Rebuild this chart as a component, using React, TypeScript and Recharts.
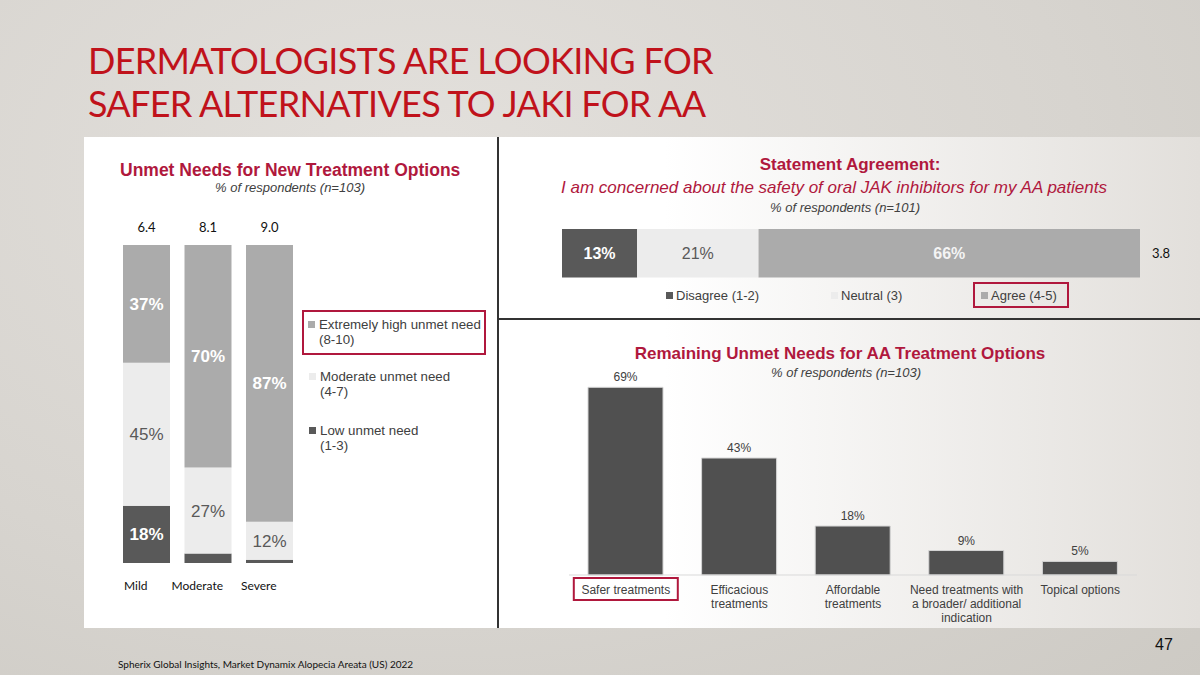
import { BarChart, Bar, XAxis, YAxis, LabelList, Legend } from "recharts";

// left: unmet need by severity (stacked 100%)
const severityCats = ["Mild", "Moderate", "Severe"];
const lowNeed = [18, 3, 1];
const moderateNeed = [45, 27, 12];
const highNeed = [37, 70, 87];
const meanScores = ["6.4", "8.1", "9.0"];

// top right: statement agreement
const agreementCats = ["Oral JAK safety"];
const disagreeShare = [13];
const neutralShare = [21];
const agreeShare = [66];
const agreementMean = ["3.8"];

// bottom right: remaining unmet needs
const needCats = [
	"Safer treatments",
	"Efficacious\ntreatments",
	"Affordable\ntreatments",
	"Need treatments with\na broader/ additional\nindication",
	"Topical options",
];
const needValues = [69, 43, 18, 9, 5];

const severityData = severityCats.map((name, i) => ({
	name,
	low: lowNeed[i],
	moderate: moderateNeed[i],
	high: highNeed[i],
	score: meanScores[i],
}));

const agreementData = agreementCats.map((name, i) => ({
	name,
	disagree: disagreeShare[i],
	neutral: neutralShare[i],
	agree: agreeShare[i],
	mean: agreementMean[i],
}));

const needData = needCats.map((name, i) => ({ name, value: needValues[i] }));

const RED = "#b0183d";
const ARIAL = "'Liberation Sans', Arial, sans-serif";
const GILL = "Lato, 'Open Sans', sans-serif";

const pct = (v: any) => (Number(v) >= 5 ? `${v}%` : "");

const ordered = (payload: any[], order: string[]) =>
	[...(payload || [])].sort((a, b) => order.indexOf(a.dataKey) - order.indexOf(b.dataKey));

const SeverityLegend = ({ payload }: any) => {
	const items = ordered(payload, ["high", "moderate", "low"]);
	const tops = [0, -10, -2];
	return (
		<div style={{ fontFamily: ARIAL, fontSize: 13.3, color: "#404040", lineHeight: "15px" }}>
			{items.map((it: any, i: number) => (
				<div
					key={it.dataKey}
					style={{
						display: "flex",
						alignItems: "flex-start",
						marginBottom: 22,
						padding: i === 0 ? "5px 4px 6px 4px" : "0 5px",
						border: i === 0 ? `2px solid ${RED}` : "2px solid transparent",
						marginTop: tops[i],
					}}
				>
					<span style={{ width: 7, height: 7, background: it.color, marginTop: 4, marginRight: 4, flex: "none" }} />
					<span style={{ whiteSpace: "pre" }}>{it.value}</span>
				</div>
			))}
		</div>
	);
};

const AgreementLegend = ({ payload }: any) => {
	const widths = [165, 150, 96];
	const items = ordered(payload, ["disagree", "neutral", "agree"]);
	return (
		<div style={{ display: "flex", fontFamily: ARIAL, fontSize: 13, color: "#404040" }}>
			{items.map((it: any, i: number) => (
				<div
					key={it.dataKey}
					style={{
						width: widths[i],
						display: "flex",
						alignItems: "center",
						boxSizing: "border-box",
						height: 26,
						padding: i === 2 ? "0 6px" : 0,
						border: i === 2 ? `2px solid ${RED}` : "2px solid transparent",
						marginLeft: i === 2 ? -6 : 0,
						flex: "none",
					}}
				>
					<span style={{ width: 7, height: 7, background: it.color, marginRight: 3 }} />
					<span>{it.value}</span>
				</div>
			))}
		</div>
	);
};

const NeedTick = ({ x, y, payload, index }: any) => {
	const lines = String(payload.value).split("\n");
	return (
		<g>
			{index === 0 && (
				<rect x={x - 52} y={y - 2} width={104} height={22} fill="none" stroke={RED} strokeWidth={2} />
			)}
			<text x={x} y={y} textAnchor="middle" fontFamily={ARIAL} fontSize={12} fill="#404040">
				{lines.map((l, i) => (
					<tspan key={i} x={x} dy={14}>
						{l}
					</tspan>
				))}
			</text>
		</g>
	);
};

const SeverityTick = ({ x, y, payload }: any) => (
	<text x={x - 11} y={y + 19} textAnchor="middle" fontFamily={GILL} fontSize={12} fill="#111">
		{payload.value}
	</text>
);

const txt = (style: any) => ({ position: "absolute" as const, margin: 0, whiteSpace: "nowrap" as const, ...style });

export default function App() {
	return (
		<div
			style={{
				position: "absolute",
				left: 0,
				top: 0,
				width: 1200,
				height: 675,
				overflow: "hidden",
				background: "radial-gradient(ellipse at 35% 25%, #e3e0dc 0%, #d7d4cf 60%, #cdcac4 100%)",
			}}
		>
			<div
				style={txt({
					left: 88,
					top: 39,
					fontFamily: GILL,
					fontSize: 36,
					lineHeight: "43px",
					color: "#c0121b",
					letterSpacing: -0.7,
				})}
			>
				DERMATOLOGISTS ARE LOOKING FOR
				<br />
				SAFER ALTERNATIVES TO JAKI FOR AA
			</div>

			<div
				style={{
					position: "absolute",
					left: 84,
					top: 137,
					width: 1116,
					height: 491,
					background: "linear-gradient(90deg, #ffffff 0%, #ffffff 52%, #e2dfdb 100%)",
				}}
			/>
			<div style={{ position: "absolute", left: 497, top: 137, width: 1.5, height: 491, background: "#333" }} />
			<div style={{ position: "absolute", left: 498, top: 318, width: 702, height: 1.5, background: "#333" }} />

			<div style={txt({ left: 120, top: 160, fontFamily: ARIAL, fontWeight: 700, fontSize: 17.5, color: RED })}>
				Unmet Needs for New Treatment Options
			</div>
			<div style={txt({ left: 290, top: 180, transform: "translateX(-50%)", fontFamily: ARIAL, fontStyle: "italic", fontSize: 13, color: "#404040" })}>
				% of respondents (n=103)
			</div>

			<div style={txt({ left: 850, top: 155, transform: "translateX(-50%)", fontFamily: ARIAL, fontWeight: 700, fontSize: 17, color: RED })}>
				Statement Agreement:
			</div>
			<div style={txt({ left: 834, top: 178, transform: "translateX(-50%)", fontFamily: ARIAL, fontStyle: "italic", fontSize: 17, color: RED })}>
				I am concerned about the safety of oral JAK inhibitors for my AA patients
			</div>
			<div style={txt({ left: 845, top: 200, transform: "translateX(-50%)", fontFamily: ARIAL, fontStyle: "italic", fontSize: 13, color: "#404040" })}>
				% of respondents (n=101)
			</div>

			<div style={txt({ left: 840, top: 344, transform: "translateX(-50%)", fontFamily: ARIAL, fontWeight: 700, fontSize: 17, color: RED })}>
				Remaining Unmet Needs for AA Treatment Options
			</div>
			<div style={txt({ left: 846, top: 365, transform: "translateX(-50%)", fontFamily: ARIAL, fontStyle: "italic", fontSize: 13, color: "#404040" })}>
				% of respondents (n=103)
			</div>

			<div style={{ position: "absolute", left: 100, top: 205 }}>
				<BarChart width={390} height={400} data={severityData} margin={{ top: 40, right: 189.5, left: 16, bottom: 12 }} barSize={47}>
					<XAxis dataKey="name" axisLine={false} tickLine={false} height={30} interval={0} tick={<SeverityTick />} />
					<YAxis hide domain={[0, 100]} />
					<Legend
						layout="vertical"
						align="center"
						verticalAlign="middle"
						content={<SeverityLegend />}
						wrapperStyle={{ left: 202, top: 105, width: 184, height: "auto" }}
					/>
					<Bar dataKey="low" name={"Low unmet need\n(1-3)"} stackId="s" fill="#595959" isAnimationActive={false}>
						<LabelList dataKey="low" position="center" formatter={pct} fill="#fff" fontFamily={ARIAL} fontWeight={700} fontSize={17} />
					</Bar>
					<Bar dataKey="moderate" name={"Moderate unmet need\n(4-7)"} stackId="s" fill="#ececec" isAnimationActive={false}>
						<LabelList dataKey="moderate" position="center" formatter={pct} fill="#595959" fontFamily={ARIAL} fontSize={17} />
					</Bar>
					<Bar dataKey="high" name={"Extremely high unmet need\n(8-10)"} stackId="s" fill="#ababab" isAnimationActive={false}>
						<LabelList dataKey="high" position="center" formatter={pct} fill="#fff" fontFamily={ARIAL} fontWeight={700} fontSize={17} />
						<LabelList dataKey="score" position="top" offset={13} fill="#111" fontFamily={GILL} fontSize={13} />
					</Bar>
				</BarChart>
			</div>

			<div style={{ position: "absolute", left: 500, top: 215 }}>
				<BarChart layout="vertical" width={690} height={100} data={agreementData} margin={{ top: 11, right: 50, left: 62, bottom: 35 }} barSize={54}>
					<XAxis type="number" hide domain={[0, 100]} />
					<YAxis type="category" dataKey="name" hide />
					<Legend
						layout="vertical"
						align="center"
						verticalAlign="middle"
						content={<AgreementLegend />}
						wrapperStyle={{ left: 164, top: 67, width: 430, height: "auto" }}
					/>
					<Bar dataKey="disagree" name="Disagree (1-2)" stackId="a" fill="#595959" isAnimationActive={false}>
						<LabelList dataKey="disagree" position="center" formatter={pct} fill="#fff" fontFamily={ARIAL} fontWeight={700} fontSize={16} />
					</Bar>
					<Bar dataKey="neutral" name="Neutral (3)" stackId="a" fill="#ececec" isAnimationActive={false}>
						<LabelList dataKey="neutral" position="center" formatter={pct} fill="#595959" fontFamily={ARIAL} fontSize={16} />
					</Bar>
					<Bar dataKey="agree" name="Agree (4-5)" stackId="a" fill="#ababab" isAnimationActive={false}>
						<LabelList dataKey="agree" position="center" formatter={pct} fill="#f4f4f4" fontFamily={ARIAL} fontWeight={700} fontSize={16} />
						<LabelList dataKey="mean" position="right" offset={12} fill="#111" fontFamily={GILL} fontSize={13} />
					</Bar>
				</BarChart>
			</div>

			<div style={{ position: "absolute", left: 500, top: 360 }}>
				<BarChart width={690} height={270} data={needData} margin={{ top: 11, right: 53, left: 69, bottom: 5 }} barSize={75}>
					<XAxis
						dataKey="name"
						interval={0}
						height={50}
						axisLine={{ stroke: "#d9d9d9" }}
						tickLine={false}
						tickSize={3}
						tick={<NeedTick />}
					/>
					<YAxis hide domain={[0, 75]} />
					<Bar dataKey="value" fill="#505050" stroke="#d4d4d4" strokeWidth={1} isAnimationActive={false}>
						<LabelList dataKey="value" position="top" offset={6} formatter={(v: any) => `${v}%`} fill="#404040" fontFamily={ARIAL} fontSize={12} />
					</Bar>
				</BarChart>
			</div>

			<div style={txt({ left: 1155, top: 636, fontFamily: ARIAL, fontSize: 16, color: "#111" })}>47</div>
			<div style={txt({ left: 118, top: 658, fontFamily: GILL, fontSize: 10, color: "#111" })}>
				Spherix Global Insights, Market Dynamix Alopecia Areata (US) 2022
			</div>
		</div>
	);
}
